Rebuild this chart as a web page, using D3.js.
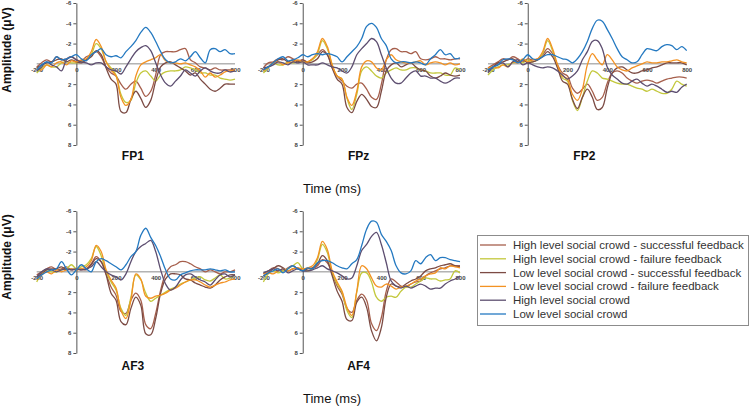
<!DOCTYPE html>
<html><head><meta charset="utf-8">
<script src="https://cdn.jsdelivr.net/npm/d3@7"></script>
<style>body{margin:0;background:#fff} svg{display:block;font-family:"Liberation Sans",Arial,sans-serif}</style>
</head><body><svg id="c" width="752" height="406"></svg>
<script>
const times = [-200,-175,-150,-125,-100,-75,-50,-25,0,25,50,75,100,125,150,175,200,225,250,275,300,325,350,375,400,425,450,475,500,525,550,575,600,625,650,675,700,725,750,775,800];
const seriesNames = ["High level social crowd - successful feedback","High level social crowd - failure feedback","Low level social crowd - successful feedback","Low level social crowd - failure feedback","High level social crowd","Low level social crowd"];
const seriesColors = ["#a65f4c","#c3c83c","#7c4b44","#f39223","#5d4e70","#2479c1"];
const panelNames = ["FP1","FPz","FP2","AF3","AF4"];
const yTicks = [-6,-4,-2,2,4,6,8];
const xTicks = [-200,0,200,400,600,800];

const FP1 = [
 [0.3,-0.1,-0.4,-0.2,-0.7,-0.4,-0.5,-0.7,-0.4,-0.3,-0.7,-0.9,-1.2,-0.7,0.3,0.9,1.2,2.0,2.5,2.0,1.7,2.4,3.2,2.7,1.1,-0.9,-1.2,-1.2,-1.2,-1.4,-1.5,-0.4,-0.1,0.3,0.4,0.6,0.4,0.6,0.6,0.6,0.6],
 [0.9,0.4,0.1,0.3,0.3,-0.1,-0.2,-0.1,-0.1,-0.2,-0.4,-0.9,-2.0,-1.5,-0.2,0.4,1.1,3.0,3.8,3.6,1.9,0.9,0.7,1.2,1.7,1.1,0.8,0.7,0.7,0.6,0.3,0.4,0.6,0.9,0.9,1.1,1.1,1.4,1.5,1.6,1.5],
 [0.4,0.1,-0.1,-0.2,-0.4,-0.5,-0.2,-0.4,-0.2,-0.1,-0.4,-0.7,-1.3,-0.9,0.4,1.5,2.0,4.7,4.8,3.5,2.7,3.4,4.3,3.6,1.7,0.3,-0.1,-0.2,0.1,0.4,0.7,1.1,0.9,1.5,2.0,2.5,2.7,2.4,2.0,2.0,2.0],
 [0.4,0.6,0.1,0.3,-0.1,-0.2,0.1,-0.3,-0.2,-0.4,-0.5,-1.2,-2.4,-1.7,-0.2,0.6,1.2,3.3,4.1,3.5,1.2,0.1,-0.2,-0.4,-0.6,-0.9,-0.3,-0.1,-0.1,0.0,-0.1,0.1,0.3,0.7,1.3,0.9,1.3,1.1,0.8,0.7,0.6],
 [0.7,0.3,-0.2,0.1,0.3,0.7,-0.4,-0.7,-0.4,-0.2,-0.1,0.1,-0.1,-0.1,0.3,0.6,0.7,1.0,0.3,-0.5,-1.2,-1.6,-1.8,-1.3,-0.1,1.1,1.9,2.2,1.7,1.2,0.6,0.9,1.2,0.7,0.4,0.7,0.9,0.9,0.6,0.8,0.7],
 [0.6,0.1,-0.2,-0.1,-0.7,-0.4,-0.5,-0.7,-0.9,-0.5,-0.3,-0.9,-1.2,-1.5,-0.9,-0.7,-0.8,-0.6,-1.2,-1.7,-2.3,-3.1,-3.6,-3.1,-2.2,-1.2,-0.4,-0.1,-0.2,-0.5,-0.3,-0.7,-1.2,-0.6,-0.1,-1.4,-1.5,-1.2,-1.4,-1.0,-1.0]
];
const FPz = [
 [0.4,-0.1,-0.2,-0.5,-0.4,-0.7,-0.5,-0.3,-0.4,-0.2,-0.5,-0.9,-1.4,-0.9,0.4,1.2,1.7,2.2,2.4,2.0,1.9,2.5,3.3,3.5,2.0,-0.4,-1.4,-1.5,-1.2,-1.2,-1.0,-1.2,-0.5,-0.4,-0.5,-0.7,-0.5,-0.5,-0.4,-0.5,-0.5],
 [0.9,0.4,-0.1,0.1,0.1,-0.2,-0.1,-0.2,-0.2,-0.2,-0.4,-1.0,-2.3,-1.5,0.1,1.2,1.5,3.4,4.5,3.0,0.7,0.3,0.7,1.2,1.4,0.9,0.6,0.4,0.6,0.6,0.4,0.4,0.6,0.7,0.9,0.9,0.9,1.1,1.1,0.4,0.6],
 [0.6,0.3,-0.1,-0.4,-0.5,-0.2,-0.4,-0.2,-0.4,-0.1,-0.2,-0.5,-1.2,-0.9,0.4,1.5,2.0,4.3,4.8,3.7,3.0,3.5,4.2,4.3,2.7,0.7,0.1,-0.1,0.3,0.1,-0.1,0.3,0.6,0.7,1.2,1.4,1.2,0.9,1.1,1.2,1.1],
 [0.7,0.3,-0.1,-0.2,0.1,-0.1,-0.2,-0.4,-0.2,-0.2,-0.5,-1.2,-2.5,-1.7,0.1,1.2,1.5,3.3,4.1,2.7,0.3,-0.3,-0.2,0.4,0.6,-0.4,-0.9,-0.4,-0.2,-0.1,-0.1,-0.2,-0.3,0.1,-0.1,-0.2,-0.1,0.1,-0.1,0.1,0.0],
 [0.4,0.3,0.1,-0.2,-0.1,0.1,-0.2,-0.1,-0.2,0.1,0.1,0.1,-0.1,0.1,0.3,0.4,0.7,0.9,0.3,-0.9,-1.5,-2.0,-2.5,-2.2,-0.9,0.4,1.4,1.9,1.9,1.4,0.9,0.7,1.2,1.2,1.4,1.4,1.7,1.9,1.7,1.4,1.4],
 [0.6,0.3,-0.1,-0.5,-0.7,-0.3,-0.4,-0.6,-0.9,-0.7,-0.9,-1.0,-0.9,-1.0,-0.9,-0.7,-0.2,-0.7,-1.2,-1.7,-2.5,-3.7,-4.0,-3.6,-2.5,-1.8,-0.5,-0.1,-0.2,-0.2,-0.1,-0.2,-0.1,0.1,-0.5,-0.9,-1.4,-0.9,-1.0,-0.5,-0.6]
];
const FP2 = [
 [0.4,0.1,-0.2,-0.5,-0.4,-0.7,-0.5,-0.2,-0.5,-0.4,-0.5,-0.9,-1.5,-1.0,0.1,0.9,1.2,2.4,2.9,2.5,2.0,2.7,3.6,3.3,1.9,0.9,0.7,0.9,1.4,1.7,1.9,1.7,1.6,1.7,1.9,1.7,1.5,1.4,1.3,1.3,1.4],
 [1.1,0.6,0.3,0.1,0.1,-0.1,-0.2,-0.1,-0.4,-0.2,-0.4,-1.0,-2.3,-1.3,0.3,1.4,1.7,3.6,4.6,3.3,1.7,0.7,0.9,1.4,1.5,1.7,1.9,2.0,2.0,2.2,2.4,2.5,2.7,2.5,2.7,2.9,2.9,2.5,1.7,2.0,2.2],
 [0.7,0.3,-0.1,-0.2,-0.4,-0.5,-0.2,-0.4,-0.1,-0.2,-0.4,-0.7,-1.2,-0.7,0.4,1.7,2.0,3.5,4.4,3.3,2.5,3.3,4.5,4.3,2.4,0.9,0.4,0.3,0.6,0.9,0.9,0.7,0.6,0.4,0.3,0.1,-0.1,-0.1,-0.1,-0.1,0.1],
 [0.4,0.3,0.4,0.1,0.3,-0.2,-0.1,-0.5,-0.2,-0.4,-0.5,-1.2,-2.5,-1.5,0.1,1.2,1.5,3.0,3.6,2.5,0.1,-1.0,-0.4,0.1,-0.9,-0.4,0.3,0.6,0.7,0.4,0.2,0.0,-0.2,-0.1,-0.1,-0.2,-0.2,-0.3,-0.4,-0.2,-0.1],
 [0.9,0.3,0.1,-0.1,0.3,-0.2,-0.4,0.1,-0.1,0.1,0.3,0.4,0.3,0.4,0.7,1.1,1.5,1.2,0.7,-0.4,-1.2,-2.2,-2.3,-1.5,0.3,1.1,1.5,1.9,2.0,1.7,1.5,1.9,2.2,2.0,2.2,2.5,2.8,2.7,2.8,2.3,2.0],
 [0.6,0.3,0.1,-0.4,-0.5,-0.4,-0.1,-0.4,-0.9,-0.5,-0.4,-0.7,-0.9,-0.9,-0.7,-0.5,-0.4,-0.1,-0.5,-1.2,-2.2,-3.5,-4.3,-4.2,-3.4,-2.5,-1.5,-0.7,-0.4,-0.1,-0.2,-0.9,-1.5,-1.4,-1.3,-1.7,-1.9,-1.8,-1.4,-1.7,-1.3]
];
const AF3 = [
 [0.3,0.0,-0.3,-0.5,-0.2,-0.3,-0.5,-0.2,-0.3,-0.2,-0.3,-0.8,-1.5,-1.0,0.2,1.5,2.3,3.9,4.1,2.8,2.1,2.8,5.2,5.6,4.1,1.8,0.2,-0.5,-0.7,-1.0,-1.0,-0.8,-0.5,-0.3,0.0,-0.2,0.0,0.2,0.0,0.0,-0.2],
 [1.0,0.2,-0.2,0.0,0.0,-0.2,-0.3,-0.7,-0.3,-0.5,-0.7,-1.3,-2.5,-1.6,0.0,1.0,1.8,3.6,4.3,2.5,0.3,0.8,2.1,2.9,2.6,2.3,2.0,1.7,1.5,1.2,1.0,0.8,0.6,0.5,0.8,0.9,0.6,0.3,0.7,0.6,0.3],
 [0.5,0.2,-0.2,-0.3,-0.3,-0.5,-0.2,-0.3,-0.2,-0.3,-0.2,-0.7,-1.3,-1.0,0.3,2.1,2.8,4.9,5.2,3.6,2.5,3.3,6.1,6.2,4.6,2.1,0.7,0.2,0.2,0.3,0.7,0.8,1.1,1.3,1.5,1.6,1.3,0.8,0.5,0.3,0.3],
 [0.8,0.3,0.0,0.2,-0.2,0.0,-0.2,-0.3,-0.2,-0.3,-0.5,-1.1,-2.6,-2.0,-0.2,0.8,1.6,3.8,4.6,2.8,0.2,0.7,2.4,2.6,2.4,2.3,2.1,1.8,1.6,1.3,1.0,0.8,0.8,1.0,1.3,1.5,1.3,1.1,1.0,0.8,0.7],
 [0.5,0.0,-0.3,-0.2,0.0,-0.2,-0.3,-0.2,-0.3,-0.2,-0.3,-0.5,-1.0,-0.5,0.0,0.3,0.5,0.8,0.2,-1.0,-2.0,-2.5,-2.8,-3.1,-2.0,-0.2,1.2,1.8,1.5,0.8,0.3,0.2,0.5,0.8,1.0,1.3,0.8,0.3,0.2,0.5,0.3],
 [0.7,0.3,0.0,-0.2,-0.3,-1.0,-0.3,0.3,-0.2,-0.7,-0.3,0.0,-1.0,-1.3,-1.1,-0.8,-0.5,-0.2,-0.7,-1.5,-2.0,-3.6,-4.3,-3.4,-2.6,-1.5,-0.2,0.7,0.8,0.3,0.1,-0.1,-0.2,-0.2,-0.2,-0.3,-0.2,-0.1,-0.2,0.0,0.0]
];
const AF4 = [
 [0.2,-0.1,-0.4,-0.3,-0.1,-0.4,-0.6,-0.3,-0.3,-0.1,-0.3,-0.6,-1.2,-0.9,0.2,1.4,2.2,3.6,4.0,2.8,2.2,2.8,5.1,5.8,4.5,1.9,0.7,1.0,1.4,1.5,1.2,1.0,0.9,0.4,0.1,-0.1,-0.3,-0.4,-0.6,-0.6,-0.6],
 [1.0,0.2,-0.1,0.1,-0.1,-0.3,-0.6,-0.9,-0.3,-0.1,-0.3,-1.2,-2.7,-1.9,0.1,1.2,2.0,3.8,4.5,2.0,0.1,0.1,1.0,2.5,2.9,2.5,2.4,2.5,1.9,1.5,1.5,1.2,0.9,0.6,0.7,0.7,0.9,0.8,0.7,-0.1,0.1],
 [0.4,0.1,-0.3,-0.6,-0.4,-0.1,-0.3,-0.4,-0.1,-0.3,-0.4,-0.8,-1.6,-1.1,0.4,1.9,2.9,4.7,4.8,3.0,2.5,3.5,5.8,6.8,5.5,2.5,1.2,1.4,1.5,1.2,0.9,0.7,0.4,-0.1,-0.3,-0.4,-0.6,-0.7,-0.8,-0.6,-0.5],
 [0.2,0.1,0.2,-0.1,-0.3,-0.1,-0.3,-0.4,-0.3,-0.4,-0.6,-1.4,-3.0,-2.2,-0.1,1.0,1.9,3.5,4.3,1.9,-0.6,-0.3,0.6,1.4,1.5,1.2,1.4,1.7,1.5,1.4,1.2,0.9,0.7,0.4,0.2,0.1,-0.4,-0.3,-0.6,-0.5,-0.4],
 [0.1,-0.1,-0.3,-0.1,-0.3,0.1,-0.1,-0.3,-0.1,-0.1,-0.2,-0.4,-0.6,-0.3,-0.1,0.1,0.4,0.7,0.6,-0.6,-2.1,-2.7,-3.5,-3.9,-2.7,-0.9,0.9,1.4,1.6,1.4,1.6,1.4,1.2,1.4,1.7,1.6,1.6,1.2,0.9,0.7,0.4],
 [0.4,0.1,-0.1,-0.3,0.1,-0.3,-0.6,-0.3,-0.1,-0.4,-0.3,-0.9,-1.1,-1.1,-0.9,-0.6,-0.4,-0.3,-0.8,-1.2,-2.6,-4.2,-5.0,-4.9,-3.7,-3.0,-2.1,-0.6,0.1,0.2,-0.1,-1.1,-0.8,-1.4,-1.7,-1.1,-1.4,-1.4,-1.2,-1.1,-1.0]
];
const panelData = [FP1, FPz, FP2, AF3, AF4];

const svg = d3.select("#c");
const cols = [[36.7,235],[263.4,460],[488,686.7]];
const rows = [[3,145],[211,353]];
const pos = [[0,0],[1,0],[2,0],[0,1],[1,1]];
const titleBase = [160, 370];

panelNames.forEach((name, i) => {
  const [ci, ri] = pos[i];
  const x = d3.scaleLinear().domain([-200, 800]).range(cols[ci]);
  const y = d3.scaleLinear().domain([-6, 8]).range(rows[ri]);
  const g = svg.append("g");

  g.append("line")
    .attr("x1", x(-200)).attr("x2", x(800))
    .attr("y1", y(0)).attr("y2", y(0))
    .attr("stroke", "#8c8c8c").attr("stroke-width", 1);

  const xa = g.append("g").attr("transform", `translate(0,${y(0)})`)
    .call(d3.axisBottom(x).tickValues(xTicks).tickSize(0).tickPadding(4).tickFormat(d => String(d)));
  xa.select(".domain").remove();
  xa.selectAll("text").attr("font-size", 6).attr("font-weight", "bold").attr("fill", "#444")
    .attr("font-family", '"Liberation Sans",Arial,sans-serif');

  const ya = g.append("g").attr("transform", `translate(${x(0)},0)`)
    .call(d3.axisLeft(y).tickValues(yTicks).tickSize(3).tickSizeOuter(0).tickPadding(2).tickFormat(d => String(d)));
  ya.select(".domain").attr("stroke", "#555");
  ya.selectAll(".tick line").attr("stroke", "#555");
  ya.selectAll("text").attr("font-size", 6).attr("font-weight", "bold").attr("fill", "#444")
    .attr("font-family", '"Liberation Sans",Arial,sans-serif');

  const line = d3.line()
    .x((d, j) => x(times[j]))
    .y(d => y(d))
    .curve(d3.curveCatmullRom.alpha(0.5));

  panelData[i].forEach((vals, k) => {
    g.append("path").attr("d", line(vals))
      .attr("fill", "none").attr("stroke", seriesColors[k])
      .attr("stroke-width", 1.3).attr("stroke-linejoin", "round");
  });

  g.append("text")
    .attr("x", (x(-200) + x(800)) / 2 - 3).attr("y", titleBase[ri])
    .attr("text-anchor", "middle").attr("font-size", 12).attr("font-weight", "bold")
    .attr("fill", "#111").text(name);
});

// axis titles
[[50, 193], [257, 403]].forEach(([ay, ty]) => {
  svg.append("text")
    .attr("transform", `translate(7,${ay}) rotate(-90)`)
    .attr("text-anchor", "middle").attr("dy", "0.35em")
    .attr("font-size", 12).attr("font-weight", "bold").attr("fill", "#111")
    .text("Amplitude (\u03bcV)");
  svg.append("text")
    .attr("x", 332).attr("y", ty)
    .attr("text-anchor", "middle").attr("font-size", 13).attr("fill", "#111")
    .text("Time (ms)");
});

// legend
const lg = svg.append("g");
lg.append("rect").attr("x", 477.5).attr("y", 235.5).attr("width", 271).attr("height", 90)
  .attr("fill", "#fff").attr("stroke", "#8c8c8c").attr("stroke-width", 1);
seriesNames.forEach((n, k) => {
  const yy = 245 + k * 13.8;
  lg.append("line").attr("x1", 480).attr("x2", 506).attr("y1", yy).attr("y2", yy)
    .attr("stroke", seriesColors[k]).attr("stroke-width", 1.3);
  lg.append("text").attr("x", 513).attr("y", yy).attr("dy", "0.35em")
    .attr("font-size", 11.5).attr("fill", "#333").text(n);
});
</script></body></html>
